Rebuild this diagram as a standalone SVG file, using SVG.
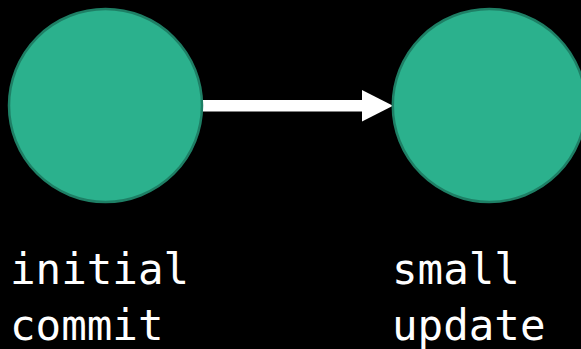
<svg xmlns="http://www.w3.org/2000/svg" width="581" height="349" viewBox="0 0 581 349">
<style>
.node{fill:#2bb18d;stroke:#1e7f65;stroke-width:2.5}
.lbl{fill:#ffffff;font-family:"DejaVu Sans Mono","Liberation Mono",monospace;font-size:42.5px}
.edge{stroke:#ffffff;stroke-width:11.5;fill:none}
</style>
<rect width="581" height="349" fill="#000000"/>
<g id="connectors">
<line class="edge" x1="202" y1="105.7" x2="364" y2="105.7"/>
<polygon points="362,90 393,105.7 362,121.5" fill="#ffffff"/>
</g>
<g id="node-initial">
<circle class="node" cx="105.5" cy="105.5" r="96.5"/>
<text class="lbl" x="10" y="284">initial</text>
<text class="lbl" x="10" y="340">commit</text>
</g>
<g id="node-small">
<circle class="node" cx="489.3" cy="105.5" r="96.5"/>
<text class="lbl" x="392" y="284">small</text>
<text class="lbl" x="392" y="340">update</text>
</g>
</svg>
